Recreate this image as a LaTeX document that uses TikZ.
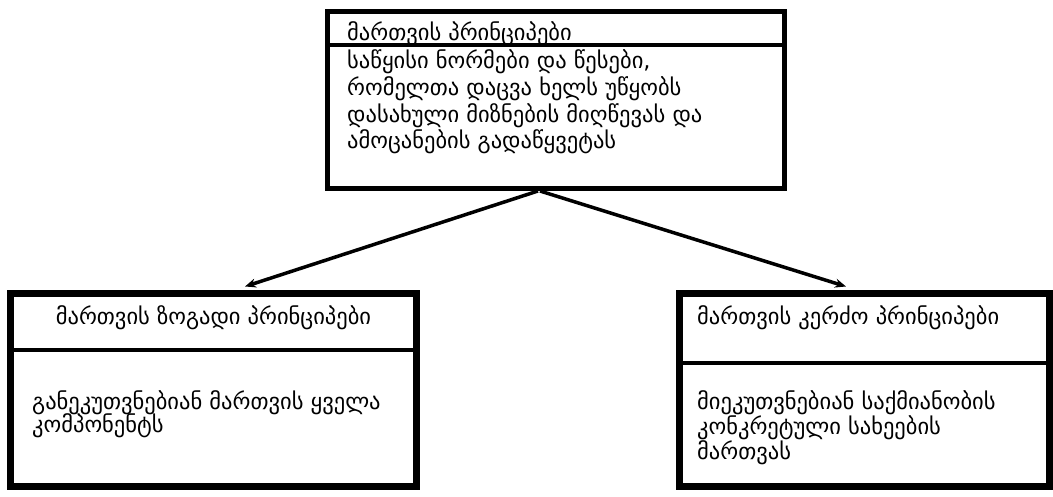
\documentclass[tikz,border=0pt]{standalone}
\usepackage{fontspec}
\newfontfamily\geo{DejaVu Sans}
\usetikzlibrary{arrows.meta}
\begin{document}
\begin{tikzpicture}[x=1pt,y=-1pt,
  box/.style={draw, rectangle, inner sep=0pt},
  lbl/.style={font=\geo\fontsize{22.5}{26}\selectfont, inner sep=0pt, anchor=base west},
  ctr/.style={lbl, anchor=base},
  divider/.style={line width=3.5pt},
  link/.style={line width=3.5pt, -{Stealth[length=11pt,width=9pt]}}]
\useasboundingbox[fill=white] (0,0) rectangle (1053,497);
% boxes
\node[box, line width=5pt, minimum width=457pt, minimum height=177pt] (top) at (556,100) {};
\node[box, line width=7pt, minimum width=406pt, minimum height=193pt] (gen) at (213.5,390) {};
\node[box, line width=7pt, minimum width=370pt, minimum height=193pt] (spec) at (864.5,390) {};
% dividers
\coordinate (d1) at (0,45);
\coordinate (d2) at (0,350);
\coordinate (d3) at (0,363);
\draw[divider, line width=4pt] (top.west |- d1) -- (top.east |- d1);
\draw[divider] (gen.west |- d2) -- (gen.east |- d2);
\draw[divider] (spec.west |- d3) -- (spec.east |- d3);
% top texts
\node[lbl] (tt) at (347,41) {მართვის პრინციპები};
\node[lbl] (tb1) at (347,69) {საწყისი ნორმები და წესები,};
\node[lbl] (tb2) at (347,96) {რომელთა დაცვა ხელს უწყობს};
\node[lbl] (tb3) at (347,123) {დასახული მიზნების მიღწევას და};
\node[lbl] (tb4) at (347,149) {ამოცანების გადაწყვეტას};
% left texts
\node[ctr] (gt) at (213.5,325) {მართვის ზოგადი პრინციპები};
\node[lbl] (gb1) at (32,409) {განეკუთვნებიან მართვის ყველა};
\node[lbl] (gb2) at (32,432) {კომპონენტს};
% right texts
\node[lbl] (st) at (697,325) {მართვის კერძო პრინციპები};
\node[lbl] (sb1) at (697,409) {მიეკუთვნებიან საქმიანობის};
\node[lbl] (sb2) at (697,434) {კონკრეტული სახეების};
\node[lbl] (sb3) at (697,459) {მართვას};
% connectors
\draw[link] ([xshift=-18pt]top.south) -- ([xshift=31.5pt,yshift=3.5pt]gen.north);
\draw[link] ([xshift=-16pt]top.south) -- ([xshift=-18.5pt,yshift=3.5pt]spec.north);
\end{tikzpicture}
\end{document}
